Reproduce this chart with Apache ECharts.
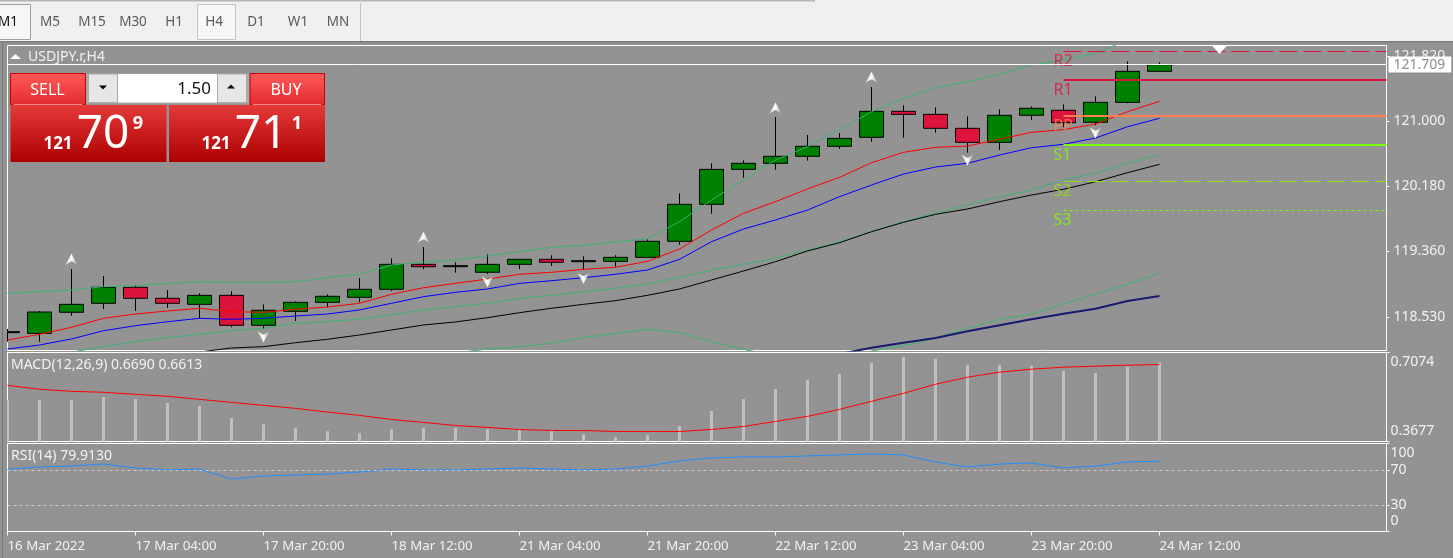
<!DOCTYPE html>
<html>
<head>
<meta charset="utf-8">
<title>USDJPY.r,H4</title>
<script src="https://cdn.jsdelivr.net/npm/echarts@6/dist/echarts.min.js"></script>
<style>
html, body { margin: 0; padding: 0; background: #939393; overflow: hidden; }
#chart { width: 1453px; height: 558px; }
</style>
</head>
<body>
<div id="chart"></div>
<script>
// candles (bar 0 = 16 Mar 2022 12:00, H4)
const candleOpen = [118.337,118.329,118.594,118.707,118.908,118.770,118.694,118.807,118.430,118.606,118.719,118.782,118.883,119.197,119.167,119.097,119.197,119.260,119.230,119.235,119.285,119.487,119.952,120.392,120.468,120.556,120.682,120.795,121.122,121.084,120.908,120.732,121.072,121.135,120.984,121.235,121.625];
const candleClose = [118.350,118.597,118.694,118.908,118.770,118.707,118.807,118.430,118.619,118.719,118.795,118.883,119.197,119.167,119.180,119.197,119.260,119.223,119.243,119.285,119.487,119.952,120.392,120.468,120.556,120.682,120.782,121.122,121.084,120.908,120.732,121.072,121.160,120.979,121.235,121.625,121.709];
const candleLow = [118.224,118.224,118.551,118.635,118.610,118.648,118.518,118.405,118.384,118.484,118.656,118.719,118.861,119.134,119.092,119.075,119.138,119.176,119.126,119.167,119.285,119.444,119.834,120.287,120.387,120.501,120.651,120.740,120.790,120.853,120.601,120.635,121.013,120.921,120.946,121.223,121.625];
const candleHigh = [118.384,118.610,119.138,119.050,118.933,118.874,118.833,118.861,118.694,118.732,118.820,119.025,119.273,119.415,119.223,119.323,119.264,119.311,119.298,119.311,119.512,120.090,120.468,120.506,121.050,120.824,120.849,121.428,121.197,121.172,121.059,121.147,121.185,121.210,121.311,121.751,121.738];

// indicator lines on the price pane
const maRed = [118.245,118.317,118.405,118.518,118.572,118.610,118.644,118.601,118.594,118.631,118.660,118.707,118.820,118.903,118.958,119.012,119.072,119.097,119.134,119.160,119.235,119.390,119.629,119.839,119.985,120.145,120.292,120.475,120.606,120.669,120.685,120.770,120.858,120.891,120.962,121.117,121.248];
const maBlue = [118.132,118.182,118.258,118.362,118.425,118.475,118.518,118.505,118.518,118.547,118.572,118.623,118.707,118.790,118.845,118.887,118.958,118.991,119.029,119.072,119.126,119.260,119.482,119.641,119.755,119.880,120.048,120.195,120.333,120.421,120.468,120.572,120.664,120.707,120.786,120.928,121.034];
const bandUpper = [118.833,118.853,118.874,118.916,118.928,118.958,118.978,118.971,118.971,118.978,119.029,119.072,119.189,119.223,119.251,119.302,119.356,119.411,119.436,119.478,119.519,119.733,120.006,120.258,120.509,120.677,120.887,121.117,121.285,121.419,121.494,121.587,121.704,121.767,121.852,122.019,122.119];
const bandLower = [null,null,118.094,118.161,118.224,118.274,118.317,118.362,118.392,118.455,118.475,118.509,118.560,118.623,118.664,118.707,118.770,118.807,118.849,118.895,118.950,119.029,119.126,119.197,119.273,119.377,119.482,119.607,119.733,119.839,119.943,120.044,120.132,120.258,120.342,120.468,120.576];
const maBlack = [null,null,null,null,null,null,118.094,118.145,118.161,118.211,118.254,118.308,118.371,118.434,118.472,118.526,118.589,118.644,118.694,118.740,118.807,118.887,119.000,119.113,119.230,119.365,119.469,119.607,119.726,119.826,119.893,119.985,120.069,120.141,120.236,120.350,120.455];
const bandLow2 = [null,null,null,null,null,null,null,null,null,null,null,null,null,null,118.082,118.132,118.161,118.204,118.274,118.329,118.380,118.337,118.224,118.128,118.044,117.994,118.019,118.107,118.173,118.267,118.392,118.505,118.572,118.698,118.820,118.946,119.084];
const maNavy = [null,null,null,null,null,null,null,null,null,null,null,null,null,null,null,null,null,null,null,null,null,null,null,null,null,null,118.069,118.148,118.211,118.270,118.355,118.430,118.505,118.576,118.639,118.736,118.799];

// fractal arrows [bar, price]
const fractalUp = [[2,119.260],[13,119.537],[24,121.163],[27,121.550]];
const fractalDown = [[8,118.287],[15,118.978],[18,119.021],[30,120.509],[34,120.853]];

// pivot levels
const levelNames = ["R2","R1","PP","S1","S2","S3"];
const levelPrices = [121.874,121.516,121.063,120.698,120.239,119.874];
const levelColors = ["#dc143c","#dc143c","#ff7f50","#7cfc00","#90e010","#7cfc00"];
const levelWidths = [1,2,2,2,1,1];
const levelDash = [[18,6],"solid","solid","solid",[18,6],[3,3]];
const levelStart = 33;

// MACD pane
const macdHist = [.5261,.5261,.5261,.5376,.5299,.5146,.5031,.4571,.4341,.4187,.4072,.3996,.4149,.4187,.4187,.4149,.4111,.4072,.3957,.3842,.3919,.4264,.4839,.5299,.5683,.6028,.6258,.6680,.6910,.6833,.6603,.6603,.6565,.6373,.6296,.6526,.6690];
const macdSignal = [.5823,.5670,.5593,.5555,.5478,.5401,.5286,.5171,.5056,.4941,.4801,.4673,.4519,.4404,.4289,.4213,.4136,.4098,.4098,.4059,.4059,.4059,.4136,.4251,.4443,.4635,.4903,.5210,.5516,.5862,.6130,.6322,.6437,.6513,.6552,.6590,.6613];

// RSI pane
const rsiValues = [70.6,73.3,74.4,76.7,72.2,70.0,71.0,59.6,63.0,64.2,65.3,67.6,71.0,70.0,70.0,71.0,72.2,71.0,70.0,71.0,74.4,80.2,83.6,84.7,84.7,85.9,87.0,88.2,87.0,79.0,73.3,76.7,77.9,72.2,74.4,79.0,79.9];
const rsiLevels = [70,30];

// axes
const bidPrice = 121.709;
const priceTicks = [118.53,119.36,120.18,121.0,121.82];
const macdTicks = [0.3677,0.7074];
const rsiEdgeTicks = [0,100];
const timeLabels = ["16 Mar 2022","17 Mar 04:00","17 Mar 20:00","18 Mar 12:00","21 Mar 04:00","21 Mar 20:00","22 Mar 12:00","23 Mar 04:00","23 Mar 20:00","24 Mar 12:00"];
const timeTicks = [0,4,8,12,16,20,24,28,32,36];
const timeframes = ["M1","M5","M15","M30","H1","H4","D1","W1","MN"];
const timeframeX = [8,50,92,133,174,214,256,298,338];

const FONT = '"Noto Sans", sans-serif';
const BG = "#939393";
const TXT = "#f2f2f2";
const xMax = 1379 / 32; // 32px per bar

function pts(arr) {
  return arr.map(function (v, i) { return [i, v]; });
}

function priceLine(name, arr, color, width) {
  return {
    name: name, type: "line", data: pts(arr), symbol: "none", silent: true,
    lineStyle: { color: color, width: width || 1 }, z: 3
  };
}

function vGrad(a, b) {
  return { type: "linear", x: 0, y: 0, x2: 0, y2: 1, colorStops: [{ offset: 0, color: a }, { offset: 1, color: b }] };
}

function txt(text, x, y, font, fill, align) {
  return {
    type: "text", z: 101,
    style: { text: text, x: x, y: y, font: font + " " + FONT, fill: fill, align: align || "center", verticalAlign: "middle" }
  };
}

function box(x, y, w, h, fill, stroke) {
  return {
    type: "rect", z: 100, shape: { x: x, y: y, width: w, height: h },
    style: { fill: fill, stroke: stroke || null, lineWidth: stroke ? 1 : 0 }
  };
}

function tri(x, y, w, h, up, fill) {
  const p = up ? [[x, y + h], [x + w, y + h], [x + w / 2, y]] : [[x, y], [x + w, y], [x + w / 2, y + h]];
  return { type: "polygon", z: 101, shape: { points: p }, style: { fill: fill } };
}

// terminal toolbar and the one click trading panel around the plot
function chrome() {
  let g = [
    box(0, 0, 1453, 41, "#f0f0f0"),
    box(0, 0, 815, 1.5, "#b4b4b4"),
    box(0, 41, 1453, 1.5, "#7c7c7c"),
    // candlestick clip only drops whole bars, so cover what sticks out left of the frame
    box(0, 42.5, 7, 516, BG),
    box(2, 42.5, 1, 516, "#787878"),
    box(-1, 4.5, 31.5, 35, "#f6f6f6", "#a0a0a0"),
    box(197.5, 4.5, 38, 35, "#f7f7f7", "#c4c4c4"),
    box(360, 3, 1, 38, "#c4c4c4")
  ];
  timeframes.forEach(function (t, i) {
    g.push(txt(t, timeframeX[i], 22.5, "13.5px", i === 0 ? "#111" : "#5a5a5a"));
  });
  g.push(tri(10, 54, 11, 5, true, "#fff"));
  g.push(txt("USDJPY.r,H4", 28, 57.5, "14px", TXT, "left"));
  g.push(txt("MACD(12,26,9) 0.6690 0.6613", 11, 365.5, "14px", TXT, "left"));
  g.push(txt("RSI(14) 79.9130", 11, 456.5, "14px", TXT, "left"));
  g.push(tri(1212, 45.5, 15, 8.5, false, "#fff"));

  const btn = vGrad("#ff5a5a", "#e32b2e");
  const px = vGrad("#e53a3a", "#ad0000");
  g.push(box(85.5, 73.5, 164, 30, "#ababab"));
  g.push(box(10.5, 73.5, 75, 31.5, btn, "#c40000"));
  g.push(box(250, 73.5, 74.5, 31.5, btn, "#c40000"));
  g.push(box(10.5, 105, 156, 57, px));
  g.push(box(169, 105, 156, 57, px));
  g.push(box(14, 104, 68, 1, "#f28a8a"));
  g.push(box(253, 104, 68, 1, "#f28a8a"));
  g.push(box(89, 74.5, 28, 27.5, "#e6e6e6"));
  g.push(box(118, 74, 99, 28.5, "#fff"));
  g.push(box(218, 74.5, 28, 27.5, "#e6e6e6"));
  g.push(tri(99, 85.5, 8, 4, false, "#000"));
  g.push(tri(227, 84.5, 8, 4, true, "#000"));
  g.push(txt("SELL", 47.5, 90.5, "16px", "#fff"));
  g.push(txt("BUY", 286, 90.5, "16px", "#fff"));
  g.push(txt("1.50", 211, 89.5, "17px", "#111", "right"));
  g.push(txt("121", 58, 144, "bold 17px", "#fff"));
  g.push(txt("70", 103, 135, "46px", "#fff"));
  g.push(txt("9", 138, 123.5, "bold 18px", "#fff"));
  g.push(txt("121", 216, 144, "bold 17px", "#fff"));
  g.push(txt("71", 261, 135, "46px", "#fff"));
  g.push(txt("1", 297, 123.5, "bold 18px", "#fff"));
  return g;
}

const ARROW_UP = "path://M6,0 L12,11 L6,7.5 L0,11 Z";
const ARROW_DOWN = "path://M0,0 L6,3.5 L12,0 L6,11 Z";
const arrowFill = { type: "linear", x: 0, y: 0, x2: 1, y2: 0, colorStops: [{ offset: 0, color: "#d8d8b8" }, { offset: 0.5, color: "#ffffff" }, { offset: 1, color: "#a0a0a0" }] };

const candles = candleOpen.map(function (o, i) {
  return [i, o, candleClose[i], candleLow[i], candleHigh[i]];
});

const series = [
  {
    name: "USDJPY.r", type: "candlestick", data: candles, barWidth: 24, silent: true, clip: true,
    encode: { x: 0, y: [1, 2, 3, 4] }, z: 2,
    itemStyle: { color: "#008000", color0: "#dc143c", borderColor: "#000", borderColor0: "#000", borderWidth: 1 },
    markLine: {
      silent: true, symbol: "none", animation: false,
      lineStyle: { color: "#fff", width: 1, type: "solid" },
      label: {
        position: "end", formatter: function () { return bidPrice.toFixed(3); }, backgroundColor: "#fff",
        color: "#8e8e8e", fontFamily: FONT, fontSize: 14, padding: [0, 6, 0, 5], lineHeight: 16, distance: 2
      },
      data: [{ yAxis: bidPrice }]
    }
  },
  priceLine("Upper band", bandUpper, "#3cb371"),
  priceLine("Lower band", bandLower, "#3cb371"),
  priceLine("Low band", bandLow2, "#3cb371"),
  priceLine("MA black", maBlack, "#000"),
  priceLine("MA navy", maNavy, "#191970", 2),
  priceLine("MA blue", maBlue, "#0000ff"),
  priceLine("MA red", maRed, "#ff0000"),
  {
    name: "Fractal up", type: "scatter", data: fractalUp, symbol: ARROW_UP, symbolSize: [12, 11], silent: true, z: 6,
    itemStyle: { color: arrowFill, opacity: 1 }
  },
  {
    name: "Fractal down", type: "scatter", data: fractalDown, symbol: ARROW_DOWN, symbolSize: [12, 11], silent: true, z: 6,
    itemStyle: { color: arrowFill, opacity: 1 }
  },
  {
    name: "MACD", type: "bar", xAxisIndex: 1, yAxisIndex: 1, data: pts(macdHist), barWidth: 3, silent: true,
    itemStyle: { color: "#c0c0c0" }
  },
  {
    name: "Signal", type: "line", xAxisIndex: 1, yAxisIndex: 1, data: pts(macdSignal), symbol: "none", silent: true,
    lineStyle: { color: "#ff0000", width: 1 }, z: 3
  },
  {
    name: "RSI", type: "line", xAxisIndex: 2, yAxisIndex: 2, data: pts(rsiValues), symbol: "none", silent: true,
    lineStyle: { color: "#1e90ff", width: 1 }, z: 3,
    markLine: {
      silent: true, symbol: "none", animation: false, label: { show: false },
      lineStyle: { color: "#c8c8c8", width: 1, type: [3, 3] },
      data: rsiLevels.map(function (v) { return { yAxis: v }; })
    }
  }
];

levelNames.forEach(function (name, i) {
  series.push({
    name: name, type: "line", symbol: "none", silent: true, z: 4,
    data: [[levelStart, levelPrices[i]], [xMax, levelPrices[i]]],
    lineStyle: { color: levelColors[i], width: levelWidths[i], type: levelDash[i] }
  });
  series.push({
    name: name + " label", type: "scatter", symbolSize: 0, silent: true, z: 4,
    data: [[levelStart, levelPrices[i]]],
    label: {
      show: true, position: [-10, 1], formatter: name, color: levelColors[i],
      fontFamily: FONT, fontSize: 16, lineHeight: 18
    }
  });
});

function xAxisFor(gridIndex, showScale) {
  return {
    type: "value", gridIndex: gridIndex, min: 0, max: xMax, splitLine: { show: false },
    axisLine: { show: false, onZero: false },
    axisTick: { show: showScale, length: 4, inside: false, lineStyle: { color: "#fff" }, customValues: timeTicks },
    axisLabel: {
      show: showScale, customValues: timeTicks, align: "left", color: TXT, fontFamily: FONT, fontSize: 13.3, margin: 8,
      formatter: function (v) { return timeLabels[timeTicks.indexOf(v)]; }
    }
  };
}

function yAxisFor(gridIndex, min, max, ticks, digits, edgeAligned, labelMargin) {
  return {
    type: "value", gridIndex: gridIndex, position: "right", offset: 0, min: min, max: max,
    splitLine: { show: false }, axisLine: { show: false, onZero: false },
    axisTick: { show: true, length: 3, lineStyle: { color: "#fff" }, customValues: ticks },
    axisLabel: {
      customValues: ticks, color: TXT, fontFamily: FONT, fontSize: 14, margin: labelMargin, lineHeight: edgeAligned ? 20 : 16,
      showMinLabel: true, showMaxLabel: true, hideOverlap: false,
      verticalAlignMinLabel: edgeAligned ? "bottom" : "middle",
      verticalAlignMaxLabel: edgeAligned ? "top" : "middle",
      formatter: function (v) { return v.toFixed(digits); }
    }
  };
}

const frame = { show: true, left: 7.5, width: 1379, borderColor: "#fff", borderWidth: 1, backgroundColor: BG };

const chart = echarts.init(document.getElementById("chart"));
chart.setOption({
  animation: false,
  backgroundColor: BG,
  textStyle: { fontFamily: FONT },
  tooltip: { show: false },
  grid: [
    Object.assign({ top: 45.5, height: 305 }, frame),
    Object.assign({ top: 352.5, height: 89 }, frame),
    Object.assign({ top: 443.5, height: 88 }, frame)
  ],
  xAxis: [xAxisFor(0, false), xAxisFor(1, false), xAxisFor(2, true)],
  yAxis: [
    yAxisFor(0, 118.113, 121.95, priceTicks, 3, false, 7),
    yAxisFor(1, macdTicks[0], macdTicks[1], macdTicks, 4, true, 4),
    yAxisFor(2, 0, 100, rsiEdgeTicks, 0, true, 4),
    // second axis on the RSI pane, 70 and 30 would otherwise be dropped as overlapping 100 and 0
    yAxisFor(2, 0, 100, rsiLevels, 0, false, 4)
  ],
  series: series,
  graphic: chrome()
});
</script>
</body>
</html>
